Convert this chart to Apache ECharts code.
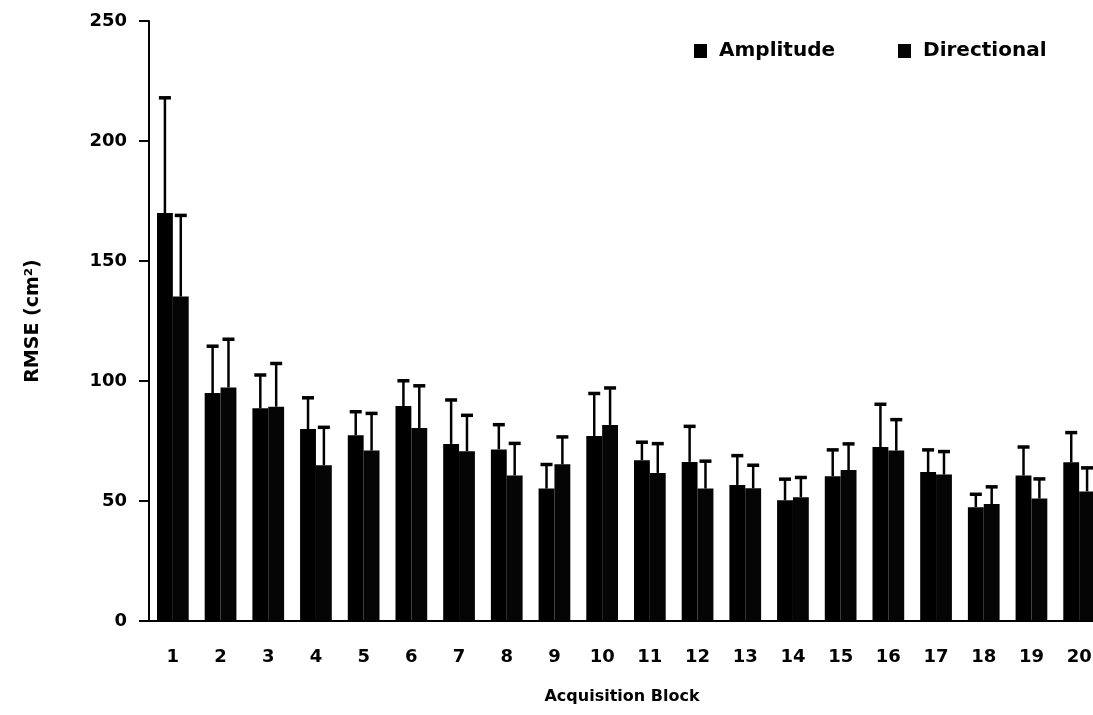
<!DOCTYPE html>
<html>
<head>
<meta charset="utf-8">
<script src="https://cdn.jsdelivr.net/npm/echarts@6/dist/echarts.min.js"></script>
<style>
html,body{margin:0;padding:0;background:#fff;}
#chart{width:1093px;height:715px;}
</style>
</head>
<body>
<div id="chart"></div>
<script>
const categories = ['1','2','3','4','5','6','7','8','9','10','11','12','13','14','15','16','17','18','19','20'];
const amplitude = [170, 95, 88.6, 80, 77.4, 89.6, 73.8, 71.5, 55.2, 77.1, 67, 66.3, 56.7, 50.3, 60.3, 72.5, 62.1, 47.4, 60.6, 66.1];
const amplitudeSD = [48, 19.5, 13.9, 13, 9.8, 10.5, 18.3, 10.3, 10, 17.7, 7.5, 14.8, 12.2, 8.8, 11, 17.8, 9.2, 5.4, 11.9, 12.4];
const directional = [135.2, 97.3, 89.3, 64.9, 71, 80.4, 70.7, 60.6, 65.3, 81.7, 61.7, 55.2, 55.3, 51.6, 62.9, 71, 61, 48.7, 51, 54];
const directionalSD = [33.8, 20.1, 18, 15.8, 15.5, 17.6, 15, 13.4, 11.4, 15.4, 12.2, 11.4, 9.6, 8.2, 10.9, 12.9, 9.6, 7.2, 8.2, 9.8];
const yTicks = [0, 50, 100, 150, 200, 250];

const FONT = 'DejaVu Sans';
const catGap = 0.335;

function errData(vals, sds) {
  return vals.map((v, i) => [i, v + sds[i], v]);
}
function makeErrRender(sign) {
  return function (params, api) {
    const idx = api.value(0);
    const top = api.value(1);
    const val = api.value(2);
    const band = api.size([1, 0])[0];
    const bw = band * (1 - catGap) / 2;
    const b = api.coord([idx, val]);
    const t = api.coord([idx, top]);
    const x = b[0] + sign * bw / 2;
    return {
      type: 'group',
      children: [
        { type: 'line', shape: { x1: x, y1: b[1], x2: x, y2: t[1] }, style: { stroke: '#000', lineWidth: 2.5 } },
        { type: 'line', shape: { x1: x - 6, y1: t[1], x2: x + 6, y2: t[1] }, style: { stroke: '#000', lineWidth: 3.5 } }
      ]
    };
  };
}

const chart = echarts.init(document.getElementById('chart'), null, { renderer: 'canvas' });
chart.setOption({
  backgroundColor: '#fff',
  animation: false,
  grid: { left: 149, width: 954, top: 21, bottom: 94, containLabel: false, outerBoundsMode: 'none' },
  legend: {
    data: ['Amplitude', 'Directional'],
    left: 689, top: 36,
    icon: 'rect', itemWidth: 13, itemHeight: 14, itemGap: 63,
    textStyle: { fontFamily: FONT, fontWeight: 'bold', fontSize: 20, color: '#000', padding: [0, 0, 0, 7] }
  },
  xAxis: {
    type: 'category',
    data: categories,
    name: 'Acquisition Block',
    nameLocation: 'middle',
    nameGap: 68,
    nameTextStyle: { fontFamily: FONT, fontWeight: 'bold', fontSize: 16, color: '#000', padding: [0, 8, 0, 0] },
    axisLine: { lineStyle: { color: '#000', width: 2 } },
    axisTick: { show: false },
    axisLabel: { margin: 27, fontFamily: FONT, fontWeight: 'bold', fontSize: 18, color: '#000', interval: 0 }
  },
  yAxis: {
    type: 'value',
    min: yTicks[0], max: yTicks[yTicks.length - 1], interval: 50,
    name: 'RMSE (cm²)',
    nameLocation: 'middle',
    nameRotate: 90,
    nameGap: 106,
    nameTextStyle: { fontFamily: FONT, fontWeight: 'bold', fontSize: 19, color: '#000' },
    axisLine: { show: true, lineStyle: { color: '#000', width: 2 } },
    axisTick: { show: true, length: 10, lineStyle: { color: '#000', width: 2 } },
    splitLine: { show: false },
    axisLabel: { margin: 22, fontFamily: FONT, fontWeight: 'bold', fontSize: 18, color: '#000' }
  },
  series: [
    { name: 'Amplitude', type: 'bar', data: amplitude, barGap: '0%', barCategoryGap: (catGap * 100) + '%', itemStyle: { color: '#000' } },
    { name: 'Directional', type: 'bar', data: directional, barGap: '0%', barCategoryGap: (catGap * 100) + '%', itemStyle: { color: '#050505' } },
    { name: 'ampErr', type: 'custom', renderItem: makeErrRender(-1), data: errData(amplitude, amplitudeSD), encode: { x: 0, y: 1 }, z: 5 },
    { name: 'dirErr', type: 'custom', renderItem: makeErrRender(1), data: errData(directional, directionalSD), encode: { x: 0, y: 1 }, z: 5 }
  ]
});
</script>
</body>
</html>
